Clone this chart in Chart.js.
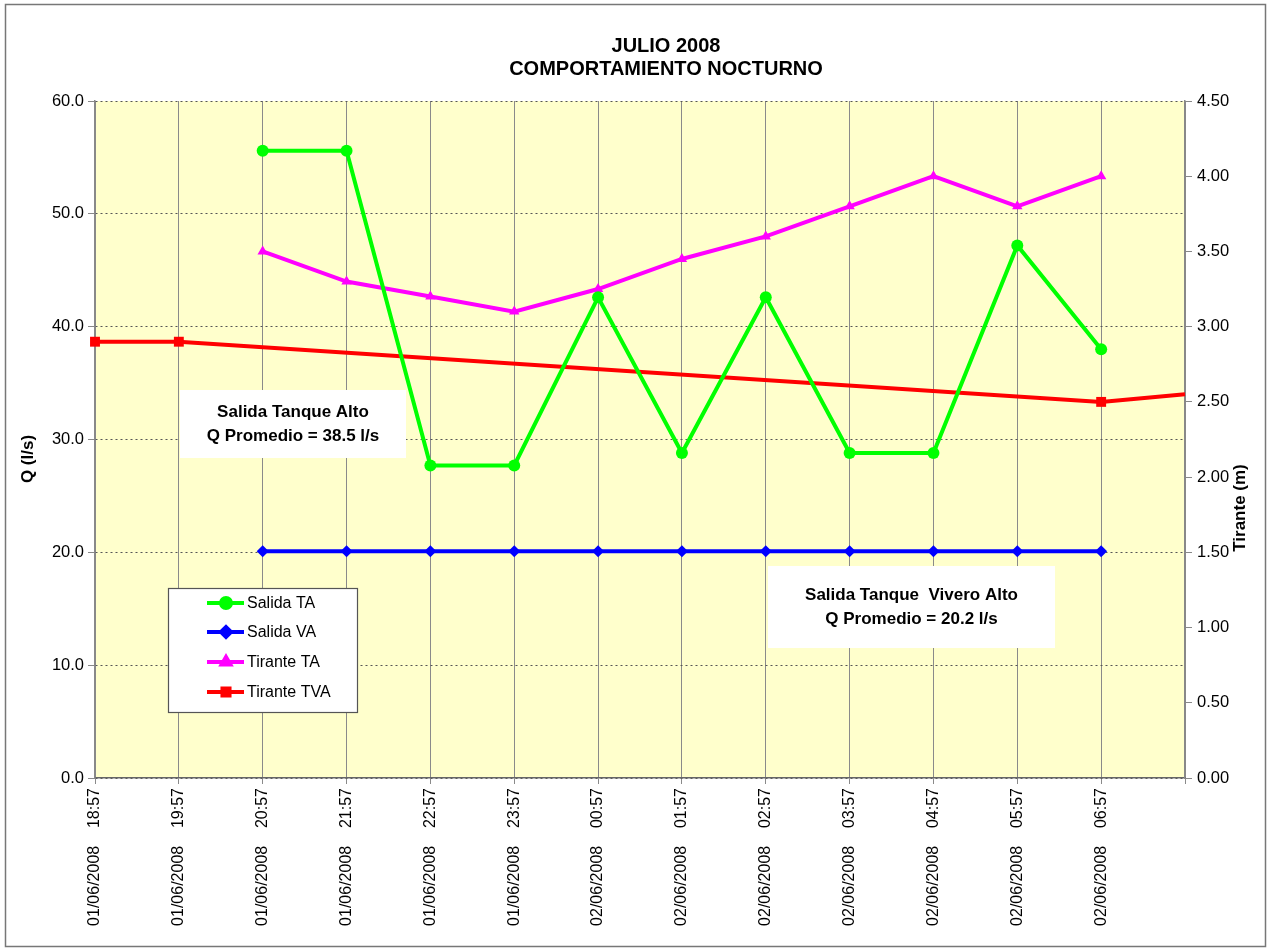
<!DOCTYPE html>
<html><head><meta charset="utf-8">
<script src="https://cdn.jsdelivr.net/npm/chart.js@4/dist/chart.umd.min.js"></script>
<style>html,body{margin:0;padding:0;background:#fff;}#wrap{width:1268px;height:949px;}</style>
</head><body><div id="wrap"><canvas id="c" width="1268" height="949"></canvas></div>
<script>
const categories = ['01/06/2008    18:57','01/06/2008    19:57','01/06/2008    20:57','01/06/2008    21:57','01/06/2008    22:57','01/06/2008    23:57','02/06/2008    00:57','02/06/2008    01:57','02/06/2008    02:57','02/06/2008    03:57','02/06/2008    04:57','02/06/2008    05:57','02/06/2008    06:57',''];
const salidaTA = [null,null,55.6,55.6,27.7,27.7,42.6,28.8,42.6,28.8,28.8,47.2,38.0,null];
const salidaVA = [null,null,20.1,20.1,20.1,20.1,20.1,20.1,20.1,20.1,20.1,20.1,20.1,null];
const tiranteTA = [null,null,3.50,3.30,3.20,3.10,3.25,3.45,3.60,3.80,4.00,3.80,4.00,null];
const tiranteTVA = [2.90,2.90,null,null,null,null,null,null,null,null,null,null,2.50,2.55];
const leftTicks = [0,10,20,30,40,50,60];
const rightTicks = [0,0.5,1,1.5,2,2.5,3,3.5,4,4.5];
const chartTitle = ['JULIO 2008','COMPORTAMIENTO NOCTURNO'];
const notes = [
  {lines:['Salida Tanque Alto','Q Promedio = 38.5 l/s'], x:180, y:390, w:226, h:68},
  {lines:['Salida Tanque  Vivero Alto','Q Promedio = 20.2 l/s'], x:768, y:566, w:287, h:82}
];
const FONT = '"Liberation Sans", Arial, sans-serif';

const decor = {
  id:'decor',
  beforeDraw(chart){
    const {ctx, chartArea:a} = chart;
    ctx.save();
    ctx.fillStyle='#fff'; ctx.fillRect(0,0,chart.width,chart.height);
    ctx.strokeStyle='#777'; ctx.lineWidth=1.5;
    ctx.strokeRect(5.5,4.5,chart.width-8,chart.height-7);
    ctx.fillStyle='#FFFFCC';
    ctx.fillRect(a.left,a.top,a.right-a.left,a.bottom-a.top);
    ctx.restore();
  },
  beforeDatasetsDraw(chart){
    const {ctx} = chart;
    ctx.save();
    notes.forEach(n=>{
      ctx.fillStyle='#fff'; ctx.fillRect(n.x,n.y,n.w,n.h);
      ctx.fillStyle='#000'; ctx.font='bold 17px '+FONT;
      ctx.textAlign='center'; ctx.textBaseline='middle';
      const cx=n.x+n.w/2, cy=n.y+n.h/2;
      ctx.fillText(n.lines[0],cx,cy-12);
      ctx.fillText(n.lines[1],cx,cy+12);
    });
    ctx.restore();
  },
  afterDraw(chart){
    const {ctx} = chart;
    ctx.save();
    // title
    ctx.fillStyle='#000'; ctx.font='bold 20px '+FONT; ctx.textAlign='center'; ctx.textBaseline='middle';
    ctx.fillText(chartTitle[0],666,46);
    ctx.fillText(chartTitle[1],666,69);
    // axis titles
    ctx.font='bold 17px '+FONT;
    ctx.save(); ctx.translate(28,459); ctx.rotate(-Math.PI/2); ctx.fillText('Q (l/s)',0,0); ctx.restore();
    ctx.save(); ctx.translate(1240,508); ctx.rotate(-Math.PI/2); ctx.fillText('Tirante (m)',0,0); ctx.restore();
    // legend
    const lx=168, ly=588, lw=189, lh=124;
    ctx.fillStyle='#fff'; ctx.fillRect(lx,ly,lw,lh);
    ctx.strokeStyle='#555'; ctx.lineWidth=1.2; ctx.strokeRect(lx+0.5,ly+0.5,lw,lh);
    const rows=[603,632,662,692];
    chart.data.datasets.forEach((ds,i)=>{
      const y=rows[i];
      ctx.strokeStyle=ds.borderColor; ctx.lineWidth=4;
      ctx.beginPath(); ctx.moveTo(207,y); ctx.lineTo(244,y); ctx.stroke();
      ctx.fillStyle=ds.borderColor;
      Chart.helpers.drawPoint(ctx,{pointStyle:ds.pointStyle,radius:5,borderWidth:1},226,y);
      ctx.fill();
      ctx.fillStyle='#000'; ctx.font='16px '+FONT; ctx.textAlign='left'; ctx.textBaseline='middle';
      ctx.fillText(ds.label,247,y+1);
    });
    ctx.restore();
  }
};

new Chart(document.getElementById('c'),{
  type:'line',
  data:{labels:categories,datasets:[
    {label:'Salida TA',data:salidaTA,yAxisID:'y',borderColor:'#00FF00',backgroundColor:'#00FF00',borderWidth:4,pointStyle:'circle',pointRadius:6,pointBorderWidth:0,tension:0},
    {label:'Salida VA',data:salidaVA,yAxisID:'y',borderColor:'#0000FF',backgroundColor:'#0000FF',borderWidth:4,pointStyle:'rectRot',pointRadius:6,pointBorderWidth:0,tension:0},
    {label:'Tirante TA',data:tiranteTA,yAxisID:'y1',borderColor:'#FF00FF',backgroundColor:'#FF00FF',borderWidth:4,pointStyle:'triangle',pointRadius:6,pointBorderWidth:0,tension:0},
    {label:'Tirante TVA',data:tiranteTVA,yAxisID:'y1',borderColor:'#FF0000',backgroundColor:'#FF0000',borderWidth:4,pointStyle:'rect',pointRadius:[7,7,0,0,0,0,0,0,0,0,0,0,7,0],pointBorderWidth:0,spanGaps:true,tension:0}
  ]},
  options:{
    responsive:false,animation:false,
    layout:{padding:{top:101,left:0,right:0,bottom:0}},
    plugins:{legend:{display:false},tooltip:{enabled:false}},
    scales:{
      x:{offset:false,
        afterFit(s){s.height=171;},
        grid:{color:'#8a8a8a',lineWidth:1,drawTicks:true,tickLength:6,tickColor:'#8a8a8a'},
        border:{color:'#666',width:1.5},
        ticks:{autoSkip:false,maxRotation:90,minRotation:90,color:'#000',font:{family:FONT,size:16},padding:4}
      },
      y:{position:'left',min:0,max:60,
        afterFit(s){s.width=95;},
        afterBuildTicks(s){s.ticks=leftTicks.map(v=>({value:v}));},
        grid:{color:'#555',lineWidth:1,tickLength:7,tickColor:'#888'},
        border:{color:'#888',width:1.5,dash:[2,3]},
        ticks:{color:'#000',font:{family:FONT,size:16.5},padding:4,callback:v=>v.toFixed(1)}
      },
      y1:{position:'right',min:0,max:4.5,
        afterFit(s){s.width=83;},
        afterBuildTicks(s){s.ticks=rightTicks.map(v=>({value:v}));},
        grid:{drawOnChartArea:false,tickLength:7,tickColor:'#888'},
        border:{color:'#888',width:1.5},
        ticks:{color:'#000',font:{family:FONT,size:16.5},padding:5,callback:v=>v.toFixed(2)}
      }
    }
  },
  plugins:[decor]
});
</script></body></html>
